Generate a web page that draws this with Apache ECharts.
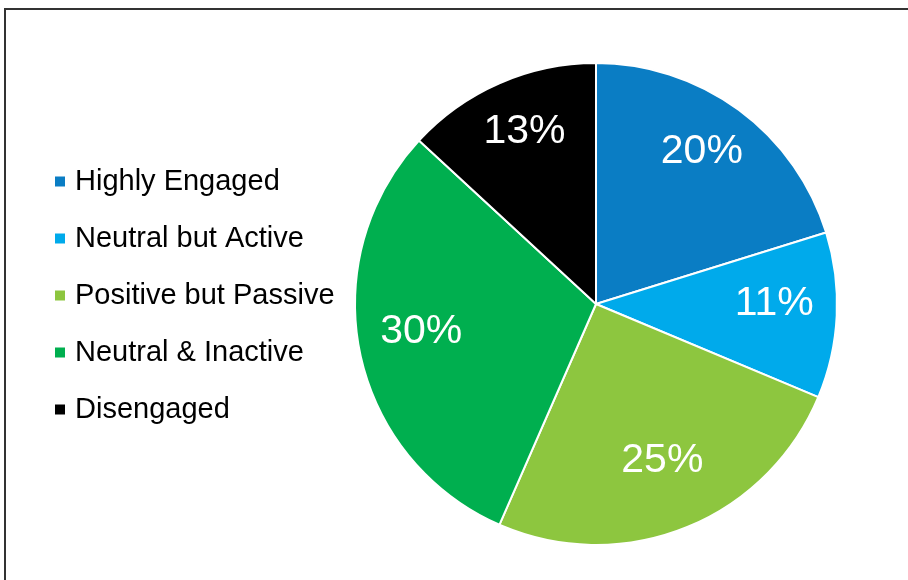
<!DOCTYPE html>
<html>
<head>
<meta charset="utf-8">
<style>
html,body{margin:0;padding:0;background:#fff;}
#chart{width:908px;height:580px;}
</style>
<script src="https://cdn.jsdelivr.net/npm/echarts@6/dist/echarts.min.js"></script>
</head>
<body>
<div id="chart"></div>
<script>
const categories = ['Highly Engaged', 'Neutral but Active', 'Positive but Passive', 'Neutral & Inactive', 'Disengaged'];
const values = [20, 11, 25, 30, 13];
const colors = ['#0A7DC4', '#00AAEB', '#8DC63F', '#00AF4F', '#000000'];

const chart = echarts.init(document.getElementById('chart'), null, {renderer: 'canvas'});
const pieData = categories.map((c, i) => ({name: c, value: values[i], itemStyle: {color: colors[i]}}));
const labelData = categories.map((c, i) => ({name: c, value: values[i]}));

chart.setOption({
  animation: false,
  backgroundColor: '#fff',
  graphic: [{
    type: 'rect',
    shape: {x: 5, y: 9, width: 960, height: 620},
    style: {fill: 'none', stroke: '#333', lineWidth: 2},
    silent: true
  }],
  legend: {
    orient: 'vertical',
    left: 48,
    top: 162,
    icon: 'rect',
    itemWidth: 12,
    itemHeight: 12,
    itemGap: 28,
    data: categories,
    selectedMode: false,
    textStyle: {fontFamily: 'Liberation Sans, Arial, sans-serif', fontSize: 29, color: '#000', lineHeight: 29, padding: [0, 0, 0, 4]}
  },
  series: [{
    type: 'pie',
    center: [596, 304],
    radius: [0, 241],
    startAngle: 90,
    clockwise: true,
    data: pieData,
    label: {show: false},
    labelLine: {show: false},
    itemStyle: {borderColor: '#fff', borderWidth: 2},
    emphasis: {disabled: true},
    silent: true
  }, {
    type: 'pie',
    center: [596, 304],
    radius: [110, 241],
    startAngle: 90,
    clockwise: true,
    data: labelData,
    itemStyle: {color: 'rgba(0,0,0,0)', borderWidth: 0},
    label: {
      show: true,
      position: 'inside',
      formatter: p => p.value + '%',
      color: '#fff',
      fontSize: 41,
      fontFamily: 'Liberation Sans, Arial, sans-serif'
    },
    labelLayout: {dy: -9},
    labelLine: {show: false},
    emphasis: {disabled: true},
    silent: true
  }]
});
</script>
</body>
</html>
